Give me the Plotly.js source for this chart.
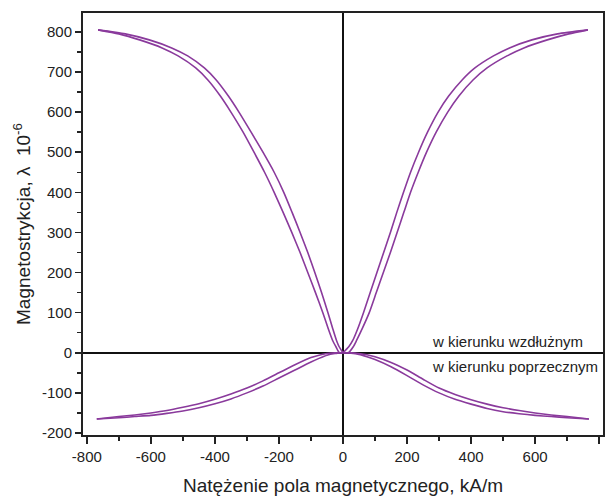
<!DOCTYPE html>
<html>
<head>
<meta charset="utf-8">
<script src="https://cdn.plot.ly/plotly-3.0.1.min.js"></script>
<style>html,body{margin:0;padding:0;background:#fff;}#chart{width:608px;height:503px;}</style>
</head>
<body>
<div id="chart"></div>
<script>
// Longitudinal direction (w kierunku wzdłużnym) – right half, outer and inner branches
const longRightOuterH = [0, 18, 30, 46, 64, 85, 106, 127, 148, 168, 189, 211, 236, 264, 297, 330, 372, 412, 470, 520, 590, 670, 765];
const longRightOuterL = [0, 15, 30, 60, 100, 150, 200, 250, 300, 350, 400, 450, 500, 550, 600, 640, 680, 710, 740, 760, 780, 795, 805];
const longRightInnerH = [0, 18, 32, 42, 60, 82, 104, 126, 148, 169, 190, 211, 235, 261, 291, 327, 362, 406, 450, 512, 565, 638, 705, 765];
const longRightInnerL = [0, 1, 15, 30, 60, 100, 150, 200, 250, 300, 350, 400, 450, 500, 550, 600, 640, 680, 710, 740, 760, 780, 795, 805];
// Longitudinal – left half
const longLeftOuterH = [0, -12, -22, -32, -46, -63, -86, -110, -134, -160, -187, -215, -245, -278, -312, -350, -383, -422, -460, -515, -565, -635, -700, -765];
const longLeftOuterL = [0, 1, 15, 30, 60, 100, 150, 200, 250, 300, 350, 400, 450, 500, 550, 600, 640, 680, 710, 740, 760, 780, 795, 805];
const longLeftInnerH = [0, -12, -20, -32, -47, -67, -88, -110, -134, -159, -185, -215, -250, -287, -325, -358, -396, -433, -485, -535, -605, -680, -765];
const longLeftInnerL = [0, 15, 30, 60, 100, 150, 200, 250, 300, 350, 400, 450, 500, 550, 600, 640, 680, 710, 740, 760, 780, 795, 805];
// Transverse direction (w kierunku poprzecznym) – right half
const transRightUpperH = [0, 25, 50, 75, 100, 150, 200, 250, 300, 350, 400, 450, 500, 550, 600, 650, 700, 768];
const transRightUpperL = [0, 0, -2, -5, -10, -24, -43, -66, -88, -104, -117, -128, -137, -144, -150, -155, -159, -165];
const transRightLowerH = [0, 25, 50, 75, 100, 150, 200, 250, 300, 350, 400, 450, 500, 550, 600, 650, 700, 768];
const transRightLowerL = [0, -1, -4, -10, -17, -35, -57, -80, -100, -116, -128, -139, -147, -152, -156, -159, -162, -165];
// Transverse – left half
const transLeftUpperH = [0, -25, -50, -75, -100, -150, -200, -250, -300, -350, -400, -450, -500, -550, -600, -650, -700, -769];
const transLeftUpperL = [0, 0, -2, -6, -12, -30, -50, -70, -88, -103, -116, -127, -136, -144, -150, -155, -159, -165];
const transLeftLowerH = [0, -25, -50, -75, -100, -150, -200, -250, -300, -350, -400, -450, -500, -550, -600, -650, -700, -769];
const transLeftLowerL = [0, -2, -6, -14, -23, -43, -63, -83, -100, -115, -127, -137, -145, -151, -156, -159, -162, -165];

const xTickVals = [-800, -600, -400, -200, 0, 200, 400, 600, 800];
const xTickText = ['-800', '-600', '-400', '-200', '0', '200', '400', '600', '800'];
const yTickVals = [-200, -100, 0, 100, 200, 300, 400, 500, 600, 700, 800];
const yTickText = ['-200', '-100', '0', '100', '200', '300', '400', '500', '600', '700', '800'];

const labelLong = 'w kierunku wzdłużnym';
const labelTrans = 'w kierunku poprzecznym';

const purple = '#8a3a9c';
function branch(x, y) {
  return {x: x, y: y, type: 'scatter', mode: 'lines',
    line: {color: purple, width: 1.6, shape: 'spline', smoothing: 0.6},
    hoverinfo: 'skip', showlegend: false};
}
const traces = [
  branch(longRightOuterH, longRightOuterL),
  branch(longRightInnerH, longRightInnerL),
  branch(longLeftOuterH, longLeftOuterL),
  branch(longLeftInnerH, longLeftInnerL),
  branch(transRightUpperH, transRightUpperL),
  branch(transRightLowerH, transRightLowerL),
  branch(transLeftUpperH, transLeftUpperL),
  branch(transLeftLowerH, transLeftLowerL)
];

const font = {family: 'Liberation Sans, Arial, sans-serif', color: '#222'};
const layout = {
  width: 608, height: 503,
  margin: {l: 83, r: 5, t: 13, b: 68},
  paper_bgcolor: '#fff', plot_bgcolor: '#fff',
  font: font,
  showlegend: false,
  xaxis: {
    range: [-812, 812],
    tickmode: 'array', tickvals: xTickVals, ticktext: xTickText,
    ticks: 'outside', ticklen: 7, tickwidth: 1.5, tickcolor: '#222',
    minor: {tickmode: 'linear', tick0: 0, dtick: 100, ticks: 'outside', ticklen: 4, tickwidth: 1.5, tickcolor: '#222'},
    showgrid: false,
    zeroline: true, zerolinecolor: '#111', zerolinewidth: 1.5,
    showline: true, linecolor: '#222', linewidth: 2, mirror: true,
    tickfont: {family: font.family, size: 15, color: '#222'},
    title: {text: 'Natężenie pola magnetycznego, kA/m', font: {family: font.family, size: 19, color: '#222'}, standoff: 15}
  },
  yaxis: {
    range: [-205, 847],
    tickmode: 'array', tickvals: yTickVals, ticktext: yTickText,
    ticks: 'outside', ticklen: 6, tickwidth: 1.5, tickcolor: '#222',
    minor: {tickmode: 'linear', tick0: 0, dtick: 50, ticks: 'outside', ticklen: 4, tickwidth: 1.5, tickcolor: '#222'},
    showgrid: false,
    zeroline: true, zerolinecolor: '#111', zerolinewidth: 1.5,
    showline: true, linecolor: '#222', linewidth: 2, mirror: true,
    tickfont: {family: font.family, size: 15, color: '#222'},
    title: {text: 'Magnetostrykcja, λ  10<sup>-6</sup>', font: {family: font.family, size: 19, color: '#222'}, standoff: 6}
  },
  annotations: [
    {x: 272, y: 27, xref: 'x', yref: 'y', text: labelLong, showarrow: false,
     xanchor: 'left', yanchor: 'middle', font: {family: font.family, size: 15, color: '#222'}},
    {x: 272, y: -35, xref: 'x', yref: 'y', text: labelTrans, showarrow: false,
     xanchor: 'left', yanchor: 'middle', font: {family: font.family, size: 15, color: '#222'}}
  ]
};
Plotly.newPlot('chart', traces, layout, {displayModeBar: false, staticPlot: true});
</script>
</body>
</html>
